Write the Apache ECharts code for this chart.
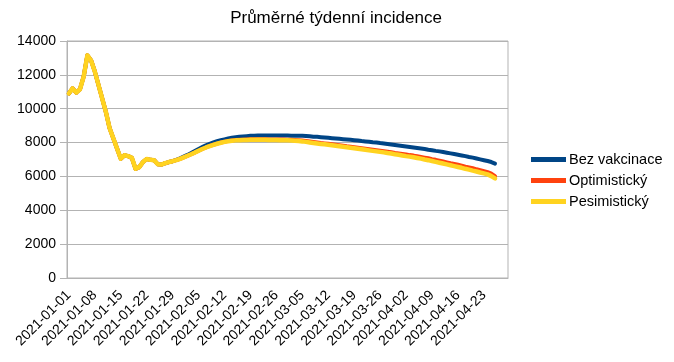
<!DOCTYPE html>
<html><head><meta charset="utf-8">
<script src="https://cdn.jsdelivr.net/npm/echarts@6/dist/echarts.min.js"></script>
<style>html,body{margin:0;padding:0;background:#fff}#c{width:674px;height:362px}</style>
</head><body><div id="c"></div>
<script>
const titleText = 'Průměrné týdenní incidence';
const seriesNames = ['Bez vakcinace', 'Optimistický', 'Pesimistický'];
const yTicks = [0, 2000, 4000, 6000, 8000, 10000, 12000, 14000];
const categories = [
'2021-01-01','2021-01-02','2021-01-03','2021-01-04','2021-01-05','2021-01-06','2021-01-07','2021-01-08','2021-01-09','2021-01-10',
'2021-01-11','2021-01-12','2021-01-13','2021-01-14','2021-01-15','2021-01-16','2021-01-17','2021-01-18','2021-01-19','2021-01-20',
'2021-01-21','2021-01-22','2021-01-23','2021-01-24','2021-01-25','2021-01-26','2021-01-27','2021-01-28','2021-01-29','2021-01-30','2021-01-31',
'2021-02-01','2021-02-02','2021-02-03','2021-02-04','2021-02-05','2021-02-06','2021-02-07','2021-02-08','2021-02-09','2021-02-10',
'2021-02-11','2021-02-12','2021-02-13','2021-02-14','2021-02-15','2021-02-16','2021-02-17','2021-02-18','2021-02-19','2021-02-20',
'2021-02-21','2021-02-22','2021-02-23','2021-02-24','2021-02-25','2021-02-26','2021-02-27','2021-02-28',
'2021-03-01','2021-03-02','2021-03-03','2021-03-04','2021-03-05','2021-03-06','2021-03-07','2021-03-08','2021-03-09','2021-03-10',
'2021-03-11','2021-03-12','2021-03-13','2021-03-14','2021-03-15','2021-03-16','2021-03-17','2021-03-18','2021-03-19','2021-03-20',
'2021-03-21','2021-03-22','2021-03-23','2021-03-24','2021-03-25','2021-03-26','2021-03-27','2021-03-28','2021-03-29','2021-03-30','2021-03-31',
'2021-04-01','2021-04-02','2021-04-03','2021-04-04','2021-04-05','2021-04-06','2021-04-07','2021-04-08','2021-04-09','2021-04-10',
'2021-04-11','2021-04-12','2021-04-13','2021-04-14','2021-04-15','2021-04-16','2021-04-17','2021-04-18','2021-04-19','2021-04-20',
'2021-04-21','2021-04-22','2021-04-23','2021-04-24','2021-04-25','2021-04-26','2021-04-27','2021-04-28','2021-04-29'
];
// shared history (identical in all three series)
const history = [10900, 11200, 10950, 11150, 11900, 13150, 12850, 12200, 11400, 10600,
  9800, 8850, 8250, 7650, 7050, 7250, 7200, 7100, 6450, 6550,
  6850, 7030, 6980, 6960, 6720, 6700, 6780, 6850];
const bezVakcinaceTail = [6900, 6980, 7070, 7170, 7270, 7380, 7500, 7620, 7730, 7840,
  7930, 8010, 8080, 8140, 8190, 8240, 8280, 8310, 8340, 8360,
  8380, 8400, 8410, 8420, 8420, 8420, 8420, 8420, 8420, 8420,
  8420, 8420, 8410, 8410, 8400, 8400, 8390, 8370, 8350, 8340,
  8320, 8300, 8280, 8260, 8240, 8220, 8200, 8180, 8160, 8140,
  8120, 8090, 8070, 8050, 8020, 8000, 7970, 7950, 7920, 7890,
  7860, 7830, 7800, 7770, 7740, 7710, 7680, 7650, 7620, 7580,
  7550, 7510, 7480, 7440, 7400, 7360, 7320, 7280, 7240, 7200,
  7150, 7110, 7060, 7010, 6960, 6910, 6850, 6760];
const optimistickyTail = [6900, 6960, 7040, 7130, 7220, 7310, 7410, 7520, 7620, 7710,
  7800, 7870, 7940, 8000, 8050, 8100, 8130, 8150, 8160, 8170,
  8180, 8190, 8190, 8190, 8190, 8190, 8180, 8180, 8180, 8180,
  8180, 8170, 8160, 8150, 8140, 8120, 8090, 8060, 8030, 8000,
  7970, 7950, 7930, 7900, 7870, 7840, 7810, 7780, 7760, 7730,
  7700, 7670, 7640, 7610, 7580, 7550, 7520, 7490, 7460, 7430,
  7390, 7360, 7330, 7300, 7260, 7230, 7190, 7150, 7110, 7070,
  7020, 6980, 6930, 6880, 6830, 6780, 6740, 6690, 6640, 6580,
  6530, 6480, 6420, 6370, 6310, 6250, 6160, 6020];
const pesimistickyTail = [6900, 6960, 7040, 7130, 7220, 7310, 7410, 7520, 7620, 7710,
  7790, 7860, 7930, 7990, 8040, 8080, 8110, 8130, 8140, 8150,
  8150, 8160, 8160, 8160, 8160, 8160, 8150, 8150, 8150, 8140,
  8140, 8130, 8120, 8110, 8090, 8070, 8040, 8010, 7980, 7950,
  7920, 7900, 7870, 7840, 7810, 7780, 7750, 7720, 7690, 7660,
  7630, 7600, 7570, 7540, 7510, 7480, 7450, 7420, 7380, 7350,
  7310, 7280, 7240, 7200, 7170, 7130, 7090, 7050, 7000, 6960,
  6910, 6860, 6810, 6760, 6710, 6660, 6610, 6560, 6510, 6450,
  6400, 6340, 6290, 6230, 6180, 6120, 6020, 5880];
const bezVakcinace = history.concat(bezVakcinaceTail);
const optimisticky = history.concat(optimistickyTail);
const pesimisticky = history.concat(pesimistickyTail);

const FONT = 'Liberation Sans';
const colors = ['#004586', '#ff420e', '#ffd320'];
const chart = echarts.init(document.getElementById('c'), null, {renderer: 'canvas'});
const mk = (name, data, color, w) => ({
  name, type: 'line', data, showSymbol: false, symbol: 'none',
  lineStyle: {width: w, color, cap: 'round', join: 'round'}, itemStyle: {color},
  emphasis: {disabled: true}
});
chart.setOption({
  animation: false,
  backgroundColor: '#fff',
  title: {text: titleText, left: 331, textAlign: 'center', top: 5,
    textStyle: {fontFamily: FONT, fontSize: 17, fontWeight: 'normal', color: '#000'}},
  grid: {left: 67, right: 166, top: 41, bottom: 84, show: true, borderColor: '#b3b3b3', borderWidth: 1},
  legend: {orient: 'vertical', left: 526, top: 147, itemWidth: 35, itemHeight: 5, itemGap: 6,
    icon: 'rect', data: seriesNames,
    textStyle: {fontFamily: FONT, fontSize: 14.5, color: '#000', padding: [0, 0, 0, -2]}},
  xAxis: {type: 'category', data: categories, boundaryGap: true,
    axisLine: {lineStyle: {color: '#b3b3b3'}},
    axisTick: {interval: 0, length: 5, lineStyle: {color: '#b3b3b3'}},
    axisLabel: {interval: 6, rotate: 45, fontSize: 14, color: '#000', margin: 15, fontFamily: FONT}},
  yAxis: {type: 'value', min: yTicks[0], max: yTicks[yTicks.length - 1], interval: yTicks[1] - yTicks[0],
    axisLine: {show: true, lineStyle: {color: '#b3b3b3'}},
    axisTick: {show: true, length: 7, lineStyle: {color: '#b3b3b3'}},
    axisLabel: {fontSize: 14, color: '#000', margin: 11, fontFamily: FONT, formatter: v => String(v)},
    splitLine: {lineStyle: {color: '#b3b3b3'}}},
  series: [
    mk(seriesNames[0], bezVakcinace, colors[0], 4),
    mk(seriesNames[1], optimisticky, colors[1], 4),
    mk(seriesNames[2], pesimisticky, colors[2], 4.5)
  ]
});
</script></body></html>
